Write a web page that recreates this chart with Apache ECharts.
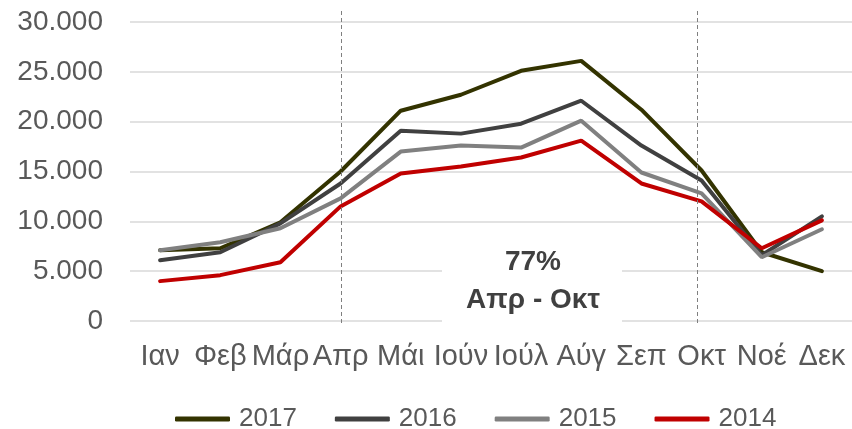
<!DOCTYPE html>
<html>
<head>
<meta charset="utf-8">
<script src="https://cdn.jsdelivr.net/npm/echarts@6/dist/echarts.min.js"></script>
<style>
  html, body { margin: 0; padding: 0; background: #fff; }
  #chart { width: 852px; height: 429px; }
</style>
</head>
<body>
<div id="chart"></div>
<script>
// μήνες
const months = ["Ιαν", "Φεβ", "Μάρ", "Απρ", "Μάι", "Ιούν", "Ιούλ", "Αύγ", "Σεπ", "Οκτ", "Νοέ", "Δεκ"];
const years = ["2017", "2016", "2015", "2014"];
const v2017 = [7100, 7300, 9900, 15000, 21100, 22700, 25100, 26100, 21200, 15100, 6900, 5000];
const v2016 = [6100, 6900, 9800, 13800, 19100, 18800, 19800, 22100, 17600, 14100, 6600, 10500];
const v2015 = [7100, 7900, 9300, 12300, 17000, 17600, 17400, 20100, 14900, 12800, 6400, 9200];
const v2014 = [4000, 4600, 5900, 11500, 14800, 15500, 16400, 18100, 13800, 12000, 7300, 10100];
const colors = ["#333300", "#404040", "#808080", "#c00000"];
const markMonths = ["Απρ", "Οκτ"]; // διακεκομμένες γραμμές
const noteLines = ["77%", "Απρ - Οκτ"];

const chart = echarts.init(document.getElementById("chart"));

function fmt(v) {
  return String(v).replace(/\B(?=(\d{3})+(?!\d))/g, ".");
}

const seriesData = [v2017, v2016, v2015, v2014];

const option = {
  animation: false,
  color: colors,
  grid: { left: 130, top: 22, width: 725, height: 299 },
  legend: {
    data: years,
    left: 170,
    top: 401,
    icon: "roundRect",
    itemWidth: 55,
    itemHeight: 5,
    itemGap: 38,
    textStyle: {
      fontFamily: "Liberation Sans, Arial, sans-serif",
      fontSize: 26,
      color: "#595959",
      padding: [0, 0, 0, 4]
    }
  },
  xAxis: {
    type: "category",
    data: months,
    axisLine: { show: false },
    axisTick: { show: false },
    axisLabel: {
      margin: 21,
      fontFamily: "Liberation Sans Narrow, Arial Narrow, Liberation Sans, sans-serif",
      fontSize: 29,
      color: "#595959",
      interval: 0
    }
  },
  yAxis: {
    type: "value",
    min: 0,
    max: 30000,
    interval: 5000,
    axisLine: { show: false },
    axisTick: { show: false },
    splitLine: { lineStyle: { color: "#d9d9d9", width: 1.5 } },
    axisLabel: {
      margin: 27,
      fontFamily: "Liberation Sans, Arial, sans-serif",
      fontSize: 28,
      color: "#595959",
      formatter: fmt
    }
  },
  series: years.map((y, i) => ({
    name: y,
    type: "line",
    data: seriesData[i],
    symbol: "none",
    lineStyle: { width: 4, color: colors[i], cap: "round" },
    itemStyle: { color: colors[i] }
  }))
};

chart.setOption(option);

// διακεκομμένες γραμμές και σημείωση
const g = [];
const lineShift = [0, -5];
markMonths.forEach((m, i) => {
  const x = Math.round(chart.convertToPixel({ xAxisIndex: 0 }, m)) + lineShift[i] + 0.5;
  g.push({
    type: "line",
    shape: { x1: x, y1: 11, x2: x, y2: 325 },
    style: { stroke: "#7f7f7f", lineWidth: 1, lineDash: [4, 3] },
    z: 10
  });
});
g.push({
  type: "rect",
  shape: { x: 442, y: 236, width: 180, height: 92 },
  style: { fill: "#ffffff" },
  z: 5
});
noteLines.forEach((t, i) => {
  g.push({
    type: "text",
    x: 533,
    y: 262 + i * 38,
    style: {
      text: t,
      fontFamily: "Liberation Sans, Arial, sans-serif",
      fontWeight: "bold",
      fontSize: 28,
      fill: "#404040",
      align: "center",
      verticalAlign: "middle"
    },
    z: 6
  });
});
chart.setOption({ graphic: g });

window.addEventListener("resize", () => chart.resize());
</script>
</body>
</html>
